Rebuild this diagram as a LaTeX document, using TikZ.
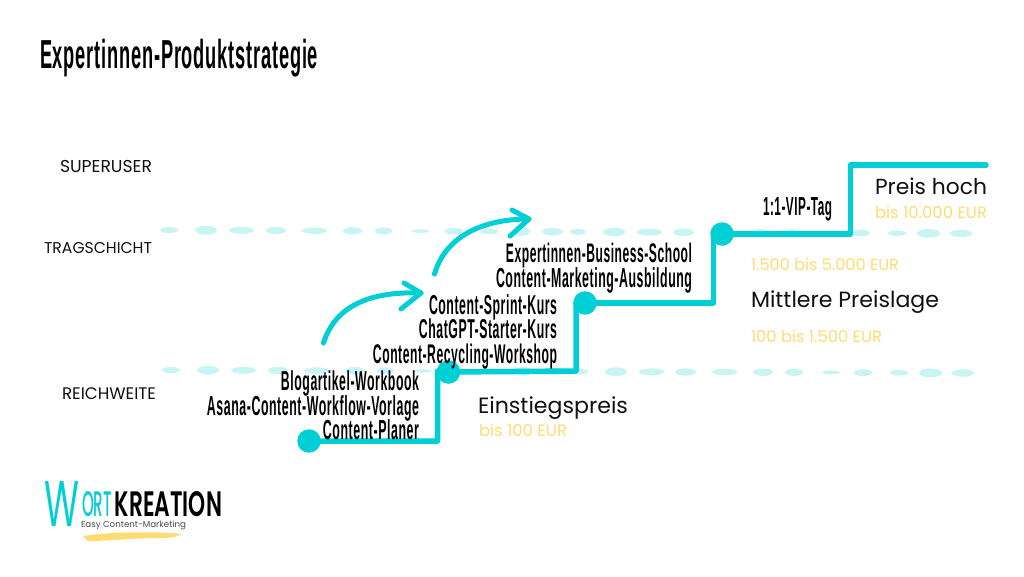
\documentclass[tikz,border=0pt]{standalone}
\usepackage{fontspec}
\usepackage{graphicx}
\setmainfont{Poppins}
\newfontfamily\condfont[FakeStretch=0.45,LetterSpace=2]{Liberation Sans}
\newfontfamily\logofont{Poppins SemiBold}
\newfontfamily\logomid{Poppins Medium}
\newfontfamily\logothin{Poppins}
\definecolor{wkcyan}{HTML}{00CFD6}
\definecolor{wkpale}{HTML}{C9F4F4}
\definecolor{wkyellow}{HTML}{FFDC73}
\definecolor{wkink}{HTML}{111111}
\newcommand{\fitw}[2]{\resizebox{#1pt}{!}{#2}}
\tikzset{
  x=1pt,y=-1pt,
  every node/.style={inner sep=0pt,outer sep=0pt},
  stepline/.style={draw=wkcyan,line width=5.5pt,line join=round,line cap=round},
  stepdot/.style={circle,fill=wkcyan,minimum size=23.5pt},
  swoosh/.style={draw=wkcyan,line width=5pt,line join=round,line cap=round},
  prod/.style={anchor=base east,text=black,font=\condfont\bfseries},
  level/.style={anchor=base west,text=wkink,font=\rmfamily},
  head/.style={anchor=base west,text=wkink,font=\rmfamily},
  price/.style={anchor=base west,text=wkyellow,font=\rmfamily},
}
\begin{document}
\begin{tikzpicture}
\useasboundingbox (0,0) rectangle (1024,576);
\fill[white] (0,0) rectangle (1024,576);
% dashed hand-drawn bands
\foreach \a/\b/\h in {160/178/3,195/217/4.4,229/254/3.5,266/286/3.7,302/327/3.2,343/362/3.7,375/392/3.5,412/429/1.8,445/463/3.4,480/498/2.8,513/530/4.4,542/563/3.7,570/586/3,603/625/4.4,637/662/3.5,673/694/3.7,710/735/3.2,751/771/3.7,783/801/3.5,820/838/1.8,852/870/3.4,888/906/2.8,917/940/4.4,950/972/3.7}{
  \pgfmathsetmacro{\mx}{(\a+\b)/2}
  \pgfmathsetmacro{\rx}{(\b-\a)/2}
  \pgfmathsetmacro{\ya}{230+(\mx-160)*3.5/810}
  \pgfmathsetmacro{\yb}{370+(\mx-160)*3/810}
  \fill[wkpale] (\mx,\ya) ellipse [x radius=\rx,y radius=\h];
  \fill[wkpale] (\mx+2,\yb) ellipse [x radius=\rx,y radius=\h];
}
% step line
\node[stepdot] (dA) at (309,441) {};
\node[stepdot] (dB) at (448.5,372) {};
\node[stepdot] (dC) at (585,303) {};
\node[stepdot] (dD) at (722,234) {};
\coordinate (endR) at (986,165);
\draw[stepline] (dA.center) -- (437.5,441) -- (437.5,371) -- (dB.center);
\draw[stepline] (dB.center) -- (576,371) -- (576,303) -- (dC.center);
\draw[stepline] (dC.center) -- (713.5,303) -- (713.5,234) -- (dD.center);
\draw[stepline] (dD.center) -- (850.5,234) -- (850.5,165) -- (endR);
% arrows
\coordinate (a1s) at (323.5,343);
\coordinate (a1e) at (421,293);
\coordinate (a1u) at (404,283);
\coordinate (a1d) at (401,309);
\draw[swoosh] (a1s) .. controls (335,306) and (370,291) .. (a1e);
\draw[swoosh] (a1u) -- (a1e) -- (a1d);
\coordinate (a2s) at (434.5,274);
\coordinate (a2e) at (529,219);
\coordinate (a2u) at (512,210);
\coordinate (a2d) at (510,236);
\draw[swoosh] (a2s) .. controls (445,238) and (480,219) .. (a2e);
\draw[swoosh] (a2u) -- (a2e) -- (a2d);
% title
\node[anchor=base west,text=black,font=\condfont\bfseries] (title) at (40,68) {\fitw{278}{\fontsize{30}{32}\selectfont Expertinnen-Produktstrategie}};
% levels
\node[level] (l1) at (60,172) {\fitw{92}{\fontsize{14}{16}\selectfont SUPERUSER}};
\node[level] (l2) at (44,253) {\fitw{108}{\fontsize{14}{16}\selectfont TRAGSCHICHT}};
\node[level] (l3) at (62,399) {\fitw{94}{\fontsize{14}{16}\selectfont REICHWEITE}};
% products
\node[prod] (p1) at (419,390) {\fitw{138}{\fontsize{20}{22}\selectfont Blogartikel-Workbook}};
\node[prod] (p2) at (419,415) {\fitw{212}{\fontsize{20}{22}\selectfont Asana-Content-Workflow-Vorlage}};
\node[prod] (p3) at (419,439) {\fitw{96}{\fontsize{20}{22}\selectfont Content-Planer}};
\node[prod] (p4) at (557,314) {\fitw{128}{\fontsize{20}{22}\selectfont Content-Sprint-Kurs}};
\node[prod] (p5) at (557,338) {\fitw{138}{\fontsize{20}{22}\selectfont ChatGPT-Starter-Kurs}};
\node[prod] (p6) at (557,363) {\fitw{184}{\fontsize{20}{22}\selectfont Content-Recycling-Workshop}};
\node[prod] (p7) at (692,262) {\fitw{186}{\fontsize{20}{22}\selectfont Expertinnen-Business-School}};
\node[prod] (p8) at (692,287) {\fitw{196}{\fontsize{20}{22}\selectfont Content-Marketing-Ausbildung}};
\node[prod] (p9) at (832,215) {\fitw{69}{\fontsize{20}{22}\selectfont 1:1-VIP-Tag}};
% price tiers
\node[head] (h1) at (875,194.5) {\fitw{112}{\fontsize{22}{24}\selectfont Preis hoch}};
\node[price] (q1) at (875,218) {\fitw{112}{\fontsize{15}{17}\selectfont bis 10.000 EUR}};
\node[price] (q2) at (751,270.5) {\fitw{148}{\fontsize{15}{17}\selectfont 1.500 bis 5.000 EUR}};
\node[head] (h2) at (751,307) {\fitw{188}{\fontsize{22}{24}\selectfont Mittlere Preislage}};
\node[price] (q3) at (751,342.5) {\fitw{131}{\fontsize{15}{17}\selectfont 100 bis 1.500 EUR}};
\node[head] (h3) at (478,413) {\fitw{150}{\fontsize{22}{24}\selectfont Einstiegspreis}};
\node[price] (q4) at (479,436) {\fitw{88}{\fontsize{15}{17}\selectfont bis 100 EUR}};
% logo
\fill[wkyellow] (83,536) .. controls (110,532) and (150,531) .. (183,534) .. controls (175,536) and (178,538) .. (160,538) .. controls (130,538) and (110,541) .. (88,541) -- cycle;
\node[anchor=center,text=wkcyan,font=\logothin] (lw) at (62.5,504.5) {\resizebox{35pt}{45pt}{W}};
\node[anchor=center,text=wkcyan,font=\logomid] (lo) at (97,504.5) {\resizebox{30pt}{25pt}{ORT}};
\node[anchor=center,text=black,font=\logofont] (lk) at (168.5,504.5) {\resizebox{107pt}{25pt}{KREATION}};
\node[anchor=center,text=black!70,font=\rmfamily] (ls) at (133.5,525) {\fitw{105}{\fontsize{8}{9}\selectfont Easy Content-Marketing}};
\end{tikzpicture}
\end{document}
